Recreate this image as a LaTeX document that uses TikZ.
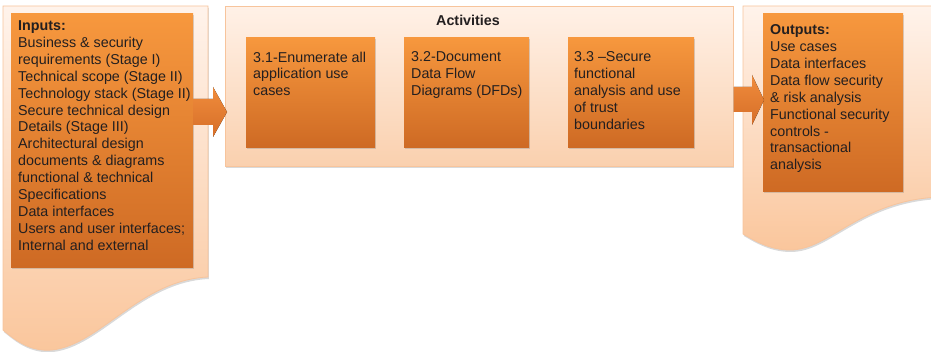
\documentclass[tikz,border=0pt]{standalone}
\usepackage{fontspec}
\setmainfont{Liberation Sans}
\usetikzlibrary{shadows}

\definecolor{boxtop}{RGB}{247,152,62}
\definecolor{boxbottom}{RGB}{206,106,36}
\definecolor{pagetop}{RGB}{255,243,235}
\definecolor{pagebottom}{RGB}{250,198,156}
\definecolor{pageedge}{RGB}{247,196,156}
\definecolor{acttop}{RGB}{255,241,231}
\definecolor{actbottom}{RGB}{250,208,174}
\definecolor{arrowtop}{RGB}{240,140,60}
\definecolor{arrowbottom}{RGB}{214,110,40}
\definecolor{textgrey}{RGB}{35,31,32}

\tikzset{
  softshadow/.style={drop shadow={opacity=0.3, shadow xshift=0.8pt, shadow yshift=-2pt}},
  page/.style={draw=pageedge, line width=0.8pt, top color=pagetop, bottom color=pagebottom, softshadow},
  stepbox/.style={rectangle, anchor=north west, inner sep=0pt, top color=boxtop, bottom color=boxbottom, softshadow},
  actbox/.style={rectangle, anchor=north west, inner sep=0pt, draw=pageedge, line width=0.8pt, top color=acttop, bottom color=actbottom, softshadow},
  boxtext/.style={anchor=north west, inner sep=0pt, align=left, text=textgrey, font=\fontsize{14.3}{16.9}\selectfont},
  blockarrow/.style={top color=arrowtop, bottom color=arrowbottom, draw=none},
}

\begin{document}
\begin{tikzpicture}[x=1pt, y=-1pt]
    \useasboundingbox (0,0) rectangle (931,352);
    \clip (0,0) rectangle (931,352);

    % Document shapes behind inputs and outputs
    \path[page] (3,6) -- (208,6) -- (208,277) .. controls (140,280) and (100,345) .. (52,350) .. controls (30,352) and (15,340) .. (3,330) -- cycle;
    \path[page] (743,6) -- (940,6) -- (940,197) .. controls (860,200) and (830,250) .. (790,250) .. controls (770,250) and (755,241) .. (743,234) -- cycle;

    % Boxes
    \node[stepbox, minimum width=182pt, minimum height=254pt] (inputs) at (11,13) {};
    \node[actbox, minimum width=508pt, minimum height=160pt] (act) at (225,6) {};
    \node[stepbox, minimum width=129pt, minimum height=110pt] (enum) at (246,37) {};
    \node[stepbox, minimum width=125pt, minimum height=110pt] (dfd) at (404,37) {};
    \node[stepbox, minimum width=126pt, minimum height=110pt] (secure) at (568,37) {};
    \node[stepbox, minimum width=140pt, minimum height=178pt] (outputs) at (763,13) {};

    % Block arrows
    \coordinate (tipA) at ([xshift=2pt]act.west |- 0,112);
    \fill[blockarrow] (inputs.east |- 0,99) -- (213,99) -- (213,87) -- (tipA) -- (213,137) -- (213,125) -- (inputs.east |- 0,125) -- cycle;
    \coordinate (tipB) at ([xshift=1pt]outputs.west |- 0,100);
    \fill[blockarrow] (act.east |- 0,87) -- (752,87) -- (752,75) -- (tipB) -- (752,125) -- (752,112) -- (act.east |- 0,112) -- cycle;

    % Texts
    \node[boxtext] (inputsText) at (18,20.5) {\textbf{Inputs:}\\
      Business \& security\\ requirements (Stage I)\\ Technical scope (Stage II)\\
      Technology stack (Stage II)\\ Secure technical design\\ Details (Stage III)\\
      Architectural design\\ documents \& diagrams\\ functional \& technical\\
      Specifications\\ Data interfaces\\ Users and user interfaces;\\ Internal and external};
    \node[anchor=base, inner sep=0pt, text=textgrey, font=\fontsize{14.3}{16.9}\selectfont\bfseries] (actTitle) at (468,26) {Activities};
    \node[boxtext] (enumText) at (253,51.5) {3.1-Enumerate all\\ application use\\ cases};
    \node[boxtext] (dfdText) at (411,51.5) {3.2-Document\\ Data Flow\\ Diagrams (DFDs)};
    \node[boxtext] (secureText) at (574,51.5) {3.3 --Secure\\ functional\\ analysis and use\\ of trust\\ boundaries};
    \node[boxtext] (outputsText) at (770,24.5) {\textbf{Outputs:}\\
      Use cases\\ Data interfaces\\ Data flow security\\ \& risk analysis\\
      Functional security\\ controls -\\ transactional\\ analysis};
\end{tikzpicture}
\end{document}
